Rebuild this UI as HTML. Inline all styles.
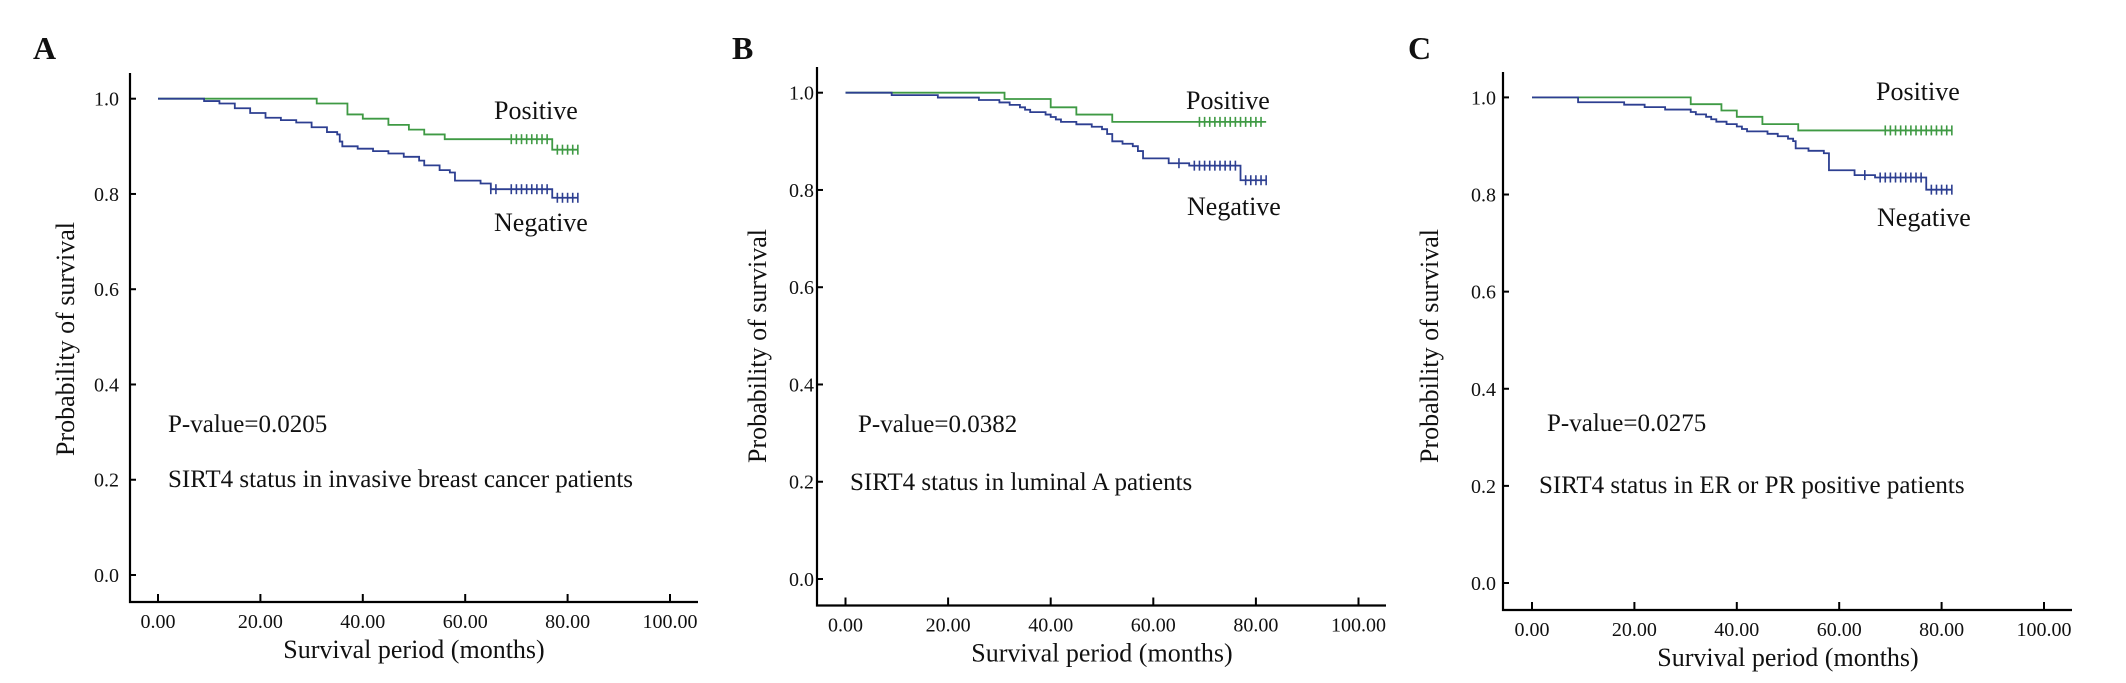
<!DOCTYPE html>
<html><head><meta charset="utf-8"><style>
html,body{margin:0;padding:0;background:#fff}
svg{display:block}
text{font-family:"Liberation Serif","DejaVu Serif",serif;fill:#111}
</style></head><body>
<svg id="fig" width="2126" height="683" viewBox="0 0 2126 683" xmlns="http://www.w3.org/2000/svg"></svg>
<script>
// ---- data ----
const xTicks = [0,20,40,60,80,100];
const xTickLabels = ["0.00","20.00","40.00","60.00","80.00","100.00"];
const yTicks = [0,0.2,0.4,0.6,0.8,1.0];
const yTickLabels = ["0.0","0.2","0.4","0.6","0.8","1.0"];

// Panel A
const aPosT = [0,31,37,40,45,49,52,56,77];
const aPosS = [1.0,0.99,0.967,0.958,0.945,0.935,0.925,0.915,0.893];
const aPosC = [69,70,71,72,73,74,75,76,78,79,80,81,82];
const aNegT = [0,9,12,15,18,21,24,27,30,33,35,35.5,36,39,42,45,48,51,52,55,57,58,63,65,77];
const aNegS = [1.0,0.995,0.99,0.98,0.97,0.96,0.955,0.95,0.94,0.93,0.925,0.91,0.90,0.895,0.89,0.885,0.878,0.87,0.86,0.85,0.845,0.828,0.822,0.81,0.792];
const aNegC = [65,66,69,70,71,72,73,74,75,76,78,79,80,81,82];
// Panel B
const bPosT = [0,31,40,45,52];
const bPosS = [1.0,0.987,0.97,0.955,0.94];
const bPosC = [69,70,71,72,73,74,75,76,77,78,79,80,81];
const bNegT = [0,9,18,26,30,32,34,35,36,39,40,41,42,45,48,50,51,52,54,56,57,58,63,67,77];
const bNegS = [1.0,0.995,0.99,0.985,0.98,0.975,0.97,0.965,0.96,0.955,0.95,0.945,0.94,0.935,0.93,0.925,0.915,0.90,0.895,0.89,0.88,0.865,0.855,0.85,0.82];
const bNegC = [65,68,69,70,71,72,73,74,75,76,78,79,80,81,82];
// Panel C
const cPosT = [0,31,37,40,45,52];
const cPosS = [1.0,0.986,0.973,0.96,0.945,0.932];
const cPosC = [69,70,71,72,73,74,75,76,77,78,79,80,81,82];
const cNegT = [0,9,18,22,26,31,32,34,35,36,38,40,41,42,46,48,50,51,51.5,54,57,58,63,67,77];
const cNegS = [1.0,0.99,0.985,0.98,0.975,0.97,0.965,0.96,0.955,0.95,0.945,0.94,0.935,0.93,0.925,0.92,0.915,0.91,0.895,0.89,0.885,0.85,0.84,0.835,0.81];
const cNegC = [65,68,69,70,71,72,73,74,75,76,78,79,80,81,82];
const endTime = 82;

const NS = "http://www.w3.org/2000/svg";
const svg = document.getElementById('fig');
function el(tag, attrs, parent){ const e=document.createElementNS(NS,tag); for(const k in attrs) e.setAttribute(k,attrs[k]); (parent||svg).appendChild(e); return e; }
function txt(s, attrs, parent){ const t=el('text',attrs,parent); t.textContent=s; return t; }

function panel(id, g){
  const grp = el('g',{});
  
  
  const X = v => g.x0 + (g.x100-g.x0)*v/100;
  const Y = v => g.y0 + (g.y1-g.y0)*v;
  const lab = txt(g.letter,{x:g.lx,y:g.ly,'font-size':32,'font-weight':'bold'},grp);
  
  
  // axes
  const ax = el('path',{d:`M${g.ax},${g.top}V${g.axY}H${g.right}`,stroke:'#000','stroke-width':2.2,fill:'none'},grp);
  
  
  yTicks.forEach((v,i)=>{
    const y=Y(v);
    el('line',{x1:g.ax,x2:g.ax+6,y1:y,y2:y,stroke:'#000','stroke-width':2},grp);
    const t=txt(yTickLabels[i],{x:g.ylx,y:y+7,'font-size':20,'text-anchor':'end'},grp);
    
    
  });
  xTicks.forEach((v,i)=>{
    const x=X(v);
    el('line',{x1:x,x2:x,y1:g.axY,y2:g.axY-8,stroke:'#000','stroke-width':2},grp);
    const t=txt(xTickLabels[i],{x:x,y:g.axY+26,'font-size':20,'text-anchor':'middle'},grp);
    
    
  });
  const xt=txt('Survival period (months)',{x:(g.x0+g.x100)/2,y:g.axY+56,'font-size':26,'text-anchor':'middle'},grp);
  
  
  const yt=txt('Probability of survival',{x:0,y:0,'font-size':26,'text-anchor':'middle',transform:`translate(${g.ytx},${g.yty}) rotate(-90)`},grp);
  
  
  function curve(T,S,C,color,name){
    let d=`M${X(T[0])},${Y(S[0])}`;
    for(let i=1;i<T.length;i++){ d+=`H${X(T[i])}V${Y(S[i])}`; }
    d+=`H${X(endTime)}`;
    const p=el('path',{d:d,stroke:color,'stroke-width':1.8,fill:'none'},grp);
    
    
    C.forEach(c=>{
      let s=S[0]; for(let i=0;i<T.length;i++) if(T[i]<=c) s=S[i];
      const m=el('line',{x1:X(c),x2:X(c),y1:Y(s)-5,y2:Y(s)+5,stroke:color,'stroke-width':1.6},grp);
      
      
    });
  }
  curve(g.posT,g.posS,g.posC,'#3f9a44','positive');
  curve(g.negT,g.negS,g.negC,'#2d3f91','negative');
  const pl=txt('Positive',{x:g.px,y:g.py,'font-size':26},grp);
  
  
  const nl=txt('Negative',{x:g.nx,y:g.ny,'font-size':26},grp);
  
  
  const pv=txt(g.pval,{x:g.pvx,y:g.pvy,'font-size':25},grp);
  
  
  const st=txt(g.sub,{x:g.sx,y:g.sy,'font-size':25},grp);
  
  
}

panel('a',{letter:'A',lx:33,ly:59,ax:130,top:73,axY:602,right:698,x0:158,x100:670,y1:98.7,y0:575,ylx:119,ytx:74,yty:339,
  posT:aPosT,posS:aPosS,posC:aPosC,negT:aNegT,negS:aNegS,negC:aNegC,
  px:494,py:119,nx:494,ny:231,pval:'P-value=0.0205',pvx:168,pvy:432,sub:'SIRT4 status in invasive breast cancer patients',sx:168,sy:487});
panel('b',{letter:'B',lx:732,ly:59,ax:817,top:67,axY:605.5,right:1386,x0:845.5,x100:1358.5,y1:92.7,y0:579,ylx:814,ytx:766,yty:346,
  posT:bPosT,posS:bPosS,posC:bPosC,negT:bNegT,negS:bNegS,negC:bNegC,
  px:1186,py:109,nx:1187,ny:215,pval:'P-value=0.0382',pvx:858,pvy:432,sub:'SIRT4 status in luminal A patients',sx:850,sy:490});
panel('c',{letter:'C',lx:1408,ly:59,ax:1503,top:72,axY:610,right:2072,x0:1532,x100:2044,y1:97.4,y0:583,ylx:1496,ytx:1438,yty:346,
  posT:cPosT,posS:cPosS,posC:cPosC,negT:cNegT,negS:cNegS,negC:cNegC,
  px:1876,py:100,nx:1877,ny:226,pval:'P-value=0.0275',pvx:1547,pvy:431,sub:'SIRT4 status in ER or PR positive patients',sx:1539,sy:493});
</script>
</body></html>
